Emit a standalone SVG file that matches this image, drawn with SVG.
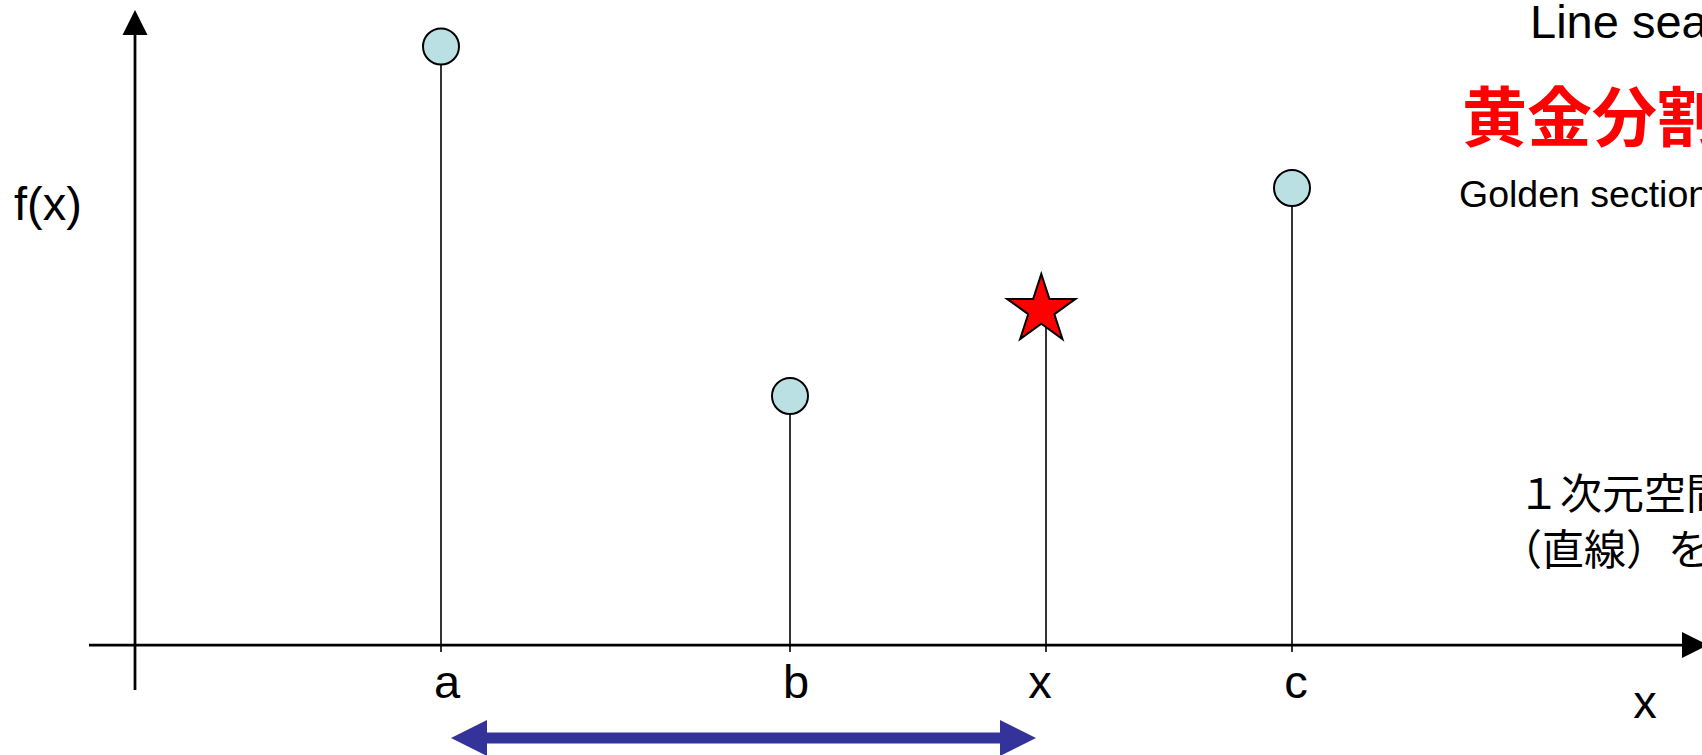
<svg xmlns="http://www.w3.org/2000/svg" width="1702" height="755" viewBox="0 0 1702 755">
<style>
.ax{stroke:#000;stroke-width:2.75;fill:none}
.stem{stroke:#000;stroke-width:1.6;fill:none}
.pt{fill:#BBE0E3;stroke:#000;stroke-width:2}
.lbl{font-family:"Liberation Sans",Arial,sans-serif;font-size:47px;fill:#000}
.jp{font-family:"Noto Sans CJK JP","Liberation Sans",sans-serif;font-size:42px;fill:#000}
.title{font-family:"Noto Sans CJK JP",sans-serif;font-size:65px;font-weight:bold;fill:#FF0000}
</style>
<rect x="0" y="0" width="1702" height="755" fill="#fff"/>
<g id="connectors">
  <line class="ax" x1="135" y1="690" x2="135" y2="32"/>
  <polygon points="135,10 122.5,35 147.5,35" fill="#000"/>
  <line class="ax" x1="89" y1="645" x2="1684" y2="645"/>
  <polygon points="1708,645 1682,632 1682,658" fill="#000"/>
  <line class="stem" x1="441" y1="64" x2="441" y2="652"/>
  <line class="stem" x1="790" y1="414" x2="790" y2="652"/>
  <line class="stem" x1="1046" y1="322" x2="1046" y2="652"/>
  <line class="stem" x1="1292" y1="206" x2="1292" y2="652"/>
  <polygon id="range-arrow" points="451,738 487,720 487,732.5 1000,732.5 1000,720 1036,738 1000,756 1000,743.5 487,743.5 487,756" fill="#333399"/>
</g>
<g id="point-a"><circle class="pt" cx="441" cy="46.5" r="18"/></g>
<g id="point-b"><circle class="pt" cx="790" cy="396" r="18"/></g>
<g id="point-c"><circle class="pt" cx="1292" cy="188" r="18"/></g>
<g id="point-x"><polygon points="1041.3,274 1049.4,298.9 1075.5,298.9 1054.4,314.2 1062.5,339.1 1041.3,323.7 1020.1,339.1 1028.2,314.2 1007.1,298.9 1033.2,298.9" fill="#FF0000" stroke="#000" stroke-width="2" stroke-linejoin="miter"/></g>
<g id="labels">
  <text class="lbl" x="14" y="220">f(x)</text>
  <text class="lbl" x="447" y="698" text-anchor="middle">a</text>
  <text class="lbl" x="796" y="698" text-anchor="middle">b</text>
  <text class="lbl" x="1040" y="698" text-anchor="middle">x</text>
  <text class="lbl" x="1296" y="698" text-anchor="middle">c</text>
  <text class="lbl" x="1645" y="718" text-anchor="middle">x</text>
</g>
<g id="notes">
  <text class="lbl" x="1530" y="38">Line sea</text>
  <text class="title" x="1462" y="141">黄金分割</text>
  <text class="lbl" x="1459" y="207" style="font-size:37.5px">Golden section</text>
  <text class="jp" x="1518" y="509">１次元空間</text>
  <text class="jp" x="1500" y="565">（直線）を</text>
</g>
</svg>
